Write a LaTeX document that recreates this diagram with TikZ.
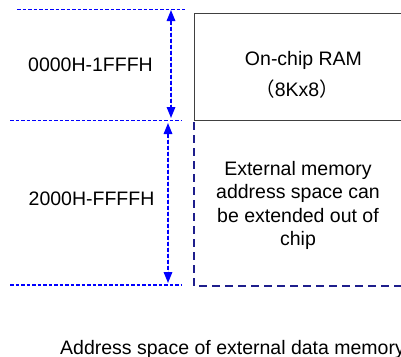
\documentclass[tikz,border=0pt]{standalone}
\usepackage{fontspec}
\setmainfont{Liberation Sans}
\newfontfamily\cjk{Noto Sans CJK SC}
\usepackage{tikz}
\usetikzlibrary{arrows.meta,positioning}
\definecolor{guideblue}{RGB}{0,0,255}
\definecolor{extnavy}{RGB}{30,30,140}
\tikzstyle{guide} = [draw=guideblue, line width=1.4pt, dash pattern=on 3.5pt off 2pt]
\tikzstyle{rangearrow} = [draw=guideblue, line width=1.6pt, dash pattern=on 4pt off 2pt, {Triangle[length=11pt,width=8.5pt]}-{Triangle[length=11pt,width=8.5pt]}, fill=guideblue]
\tikzstyle{rambox} = [draw=black!75, line width=1pt]
\tikzstyle{extbox} = [draw=extnavy, line width=1.5pt, dash pattern=on 8pt off 5pt]
\tikzstyle{memtext} = [font=\fontsize{19.5}{23.4}\selectfont, inner sep=0pt, align=center]

\begin{document}
\begin{tikzpicture}[x=1pt, y=-1pt]
\useasboundingbox (0,0) rectangle (401,356);
\clip (0,0) rectangle (401,356);

% First we place the end points of the lines
\foreach \pos / \name in {{(17,9.5)/topL},{(185,9.5)/topR},{(10,120.5)/midL},{(182,120.5)/midR},{(10,285)/botL},{(182,285)/botR},{(171,10)/lowT},{(171,118)/lowB},{(168,123)/highT},{(168,283)/highB}}
\node[coordinate] (\name) at \pos {};

% Dashed guide lines and the two ranges
\foreach \source / \dest in {topL/topR,midL/midR,botL/botR}
\path[guide] (\source) -- (\dest);
\foreach \source / \dest in {lowT/lowB,highT/highB}
\path[rangearrow] (\source) -- (\dest);

% The memory blocks
\coordinate (ramNW) at (194.5,13);
\coordinate (ramSE) at (420,120.5);
\coordinate (extNW) at (194,122);
\coordinate (extSW) at (194,286);
\coordinate (extSE) at (420,286);
\draw[rambox] (ramNW) rectangle (ramSE);
\draw[extbox] (extNW) -- (extSW) -- (extSE);

% Texts
\node[memtext] (lowrange) at (90.5,65) {0000H-1FFFH};
\node[memtext] (highrange) at (91.5,198.5) {2000H-FFFFH};
\node[memtext, anchor=base] (ram) at (303.5,65) {On-chip RAM};
\node[memtext, anchor=base] (ramsize) at (297,96.5) {{\cjk （}8Kx8{\cjk ）}};
\node[memtext, anchor=north] (ext) at (298,161) {External memory\\address space can\\be extended out of\\chip};
\node[memtext, anchor=base west] (caption) at (60,354.5) {Address space of external data memory};

\end{tikzpicture}
\end{document}
